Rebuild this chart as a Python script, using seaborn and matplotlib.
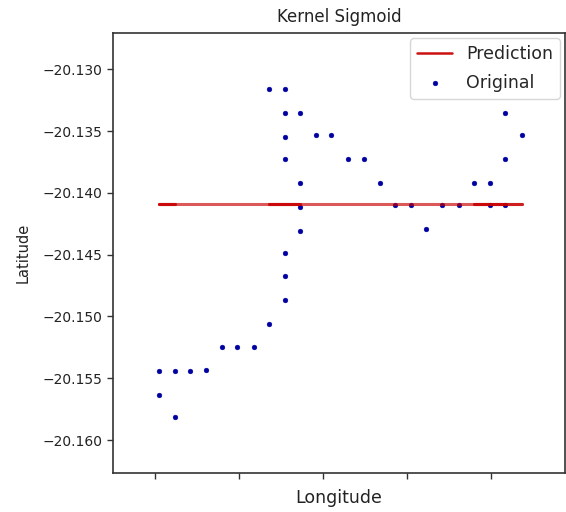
import matplotlib
matplotlib.use("Agg")
import matplotlib.pyplot as plt
import seaborn as sns
import pandas as pd

# Data, in original sample order
longitude = [57.47022, 57.47121, 57.47022, 57.47121, 57.47208, 57.47305, 57.47397,
             57.47490, 57.47589, 57.47679, 57.47772, 57.47772, 57.47772, 57.47863,
             57.47679, 57.47772, 57.47772, 57.47772, 57.47772, 57.47863, 57.47863,
             57.47863, 57.47960, 57.48048, 57.48147, 57.48244, 57.48341, 57.48429,
             57.48526, 57.48615, 57.48710, 57.48810, 57.48994, 57.49083, 57.49185,
             57.49083, 57.48994, 57.48901, 57.49083]
latitude = [-20.15442, -20.15442, -20.15636, -20.15814, -20.15442, -20.15431, -20.15250,
            -20.15250, -20.15250, -20.15059, -20.14867, -20.14675, -20.14484, -20.14306,
            -20.13162, -20.13162, -20.13356, -20.13545, -20.13726, -20.13356, -20.13918,
            -20.14112, -20.13534, -20.13534, -20.13726, -20.13726, -20.13918, -20.14098,
            -20.14098, -20.14292, -20.14098, -20.14098, -20.13918, -20.13356, -20.13534,
            -20.13726, -20.14098, -20.13918, -20.14098]
prediction = [-20.1409] * len(longitude)

y_ticks = [-20.130, -20.135, -20.140, -20.145, -20.150, -20.155, -20.160]
x_ticks = [57.470, 57.475, 57.480, 57.485, 57.490]

df = pd.DataFrame({"Longitude": longitude, "Latitude": latitude, "Prediction": prediction})

# split the prediction line (plotted in sample order) into monotonic passes,
# so that passes drawn over each other overlap like the original line
rows = []
run = 0
prev_sign = 0
for i in range(len(longitude)):
    if i > 0:
        d = longitude[i] - longitude[i - 1]
        sign = (d > 0) - (d < 0)
        if sign != 0 and prev_sign != 0 and sign != prev_sign:
            run += 1
            rows.append({"Longitude": longitude[i - 1], "Prediction": prediction[i - 1], "run": run})
        if sign != 0:
            prev_sign = sign
    rows.append({"Longitude": longitude[i], "Prediction": prediction[i], "run": run})
line_df = pd.DataFrame(rows)

sns.set_theme(style="ticks")
plt.rcParams["font.family"] = ["DejaVu Sans"]

fig = plt.figure(figsize=(5.66, 5.12), dpi=100)
ax = fig.add_axes([0.2002, 0.0756, 0.798, 0.8599])

sns.lineplot(data=line_df, x="Longitude", y="Prediction", units="run", sort=False,
             estimator=None, color="#c80000", alpha=0.65, linewidth=2.2, ax=ax)
ax.plot([], [], color="#cc1111", linewidth=1.8, label="Prediction")
sns.scatterplot(data=df, x="Longitude", y="Latitude", color="#0000a0", s=12,
                edgecolor="#0000a0", linewidth=0.3, label="Original", ax=ax)

ax.set_xlim(57.46752, 57.49440)
ax.set_ylim(-20.16269, -20.12706)
ax.set_xticks(x_ticks)
ax.set_xticklabels([])
ax.set_yticks(y_ticks)
ax.set_yticklabels([f"\u2212{abs(v):.3f}" for v in y_ticks])
ax.tick_params(axis="both", direction="out", length=4.5, width=1, colors="#333333",
               labelsize=10, labelcolor="#222222")
for s in ax.spines.values():
    s.set_visible(True)
    s.set_color("#333333")
    s.set_linewidth(1.2)

ax.set_title("Kernel Sigmoid", fontsize=12, color="#222222", pad=8)
ax.set_xlabel("Longitude", fontsize=12.5, color="#222222", labelpad=3)
ax.set_ylabel("Latitude", fontsize=10.5, color="#222222", labelpad=8)

leg = ax.legend(loc="upper right", fontsize=12.5, frameon=True, fancybox=True,
                borderaxespad=0.3, handlelength=2.0, labelspacing=0.6, markerscale=1.0)
leg.get_frame().set_edgecolor("#cccccc")

fig.savefig("out.png", dpi=100)
